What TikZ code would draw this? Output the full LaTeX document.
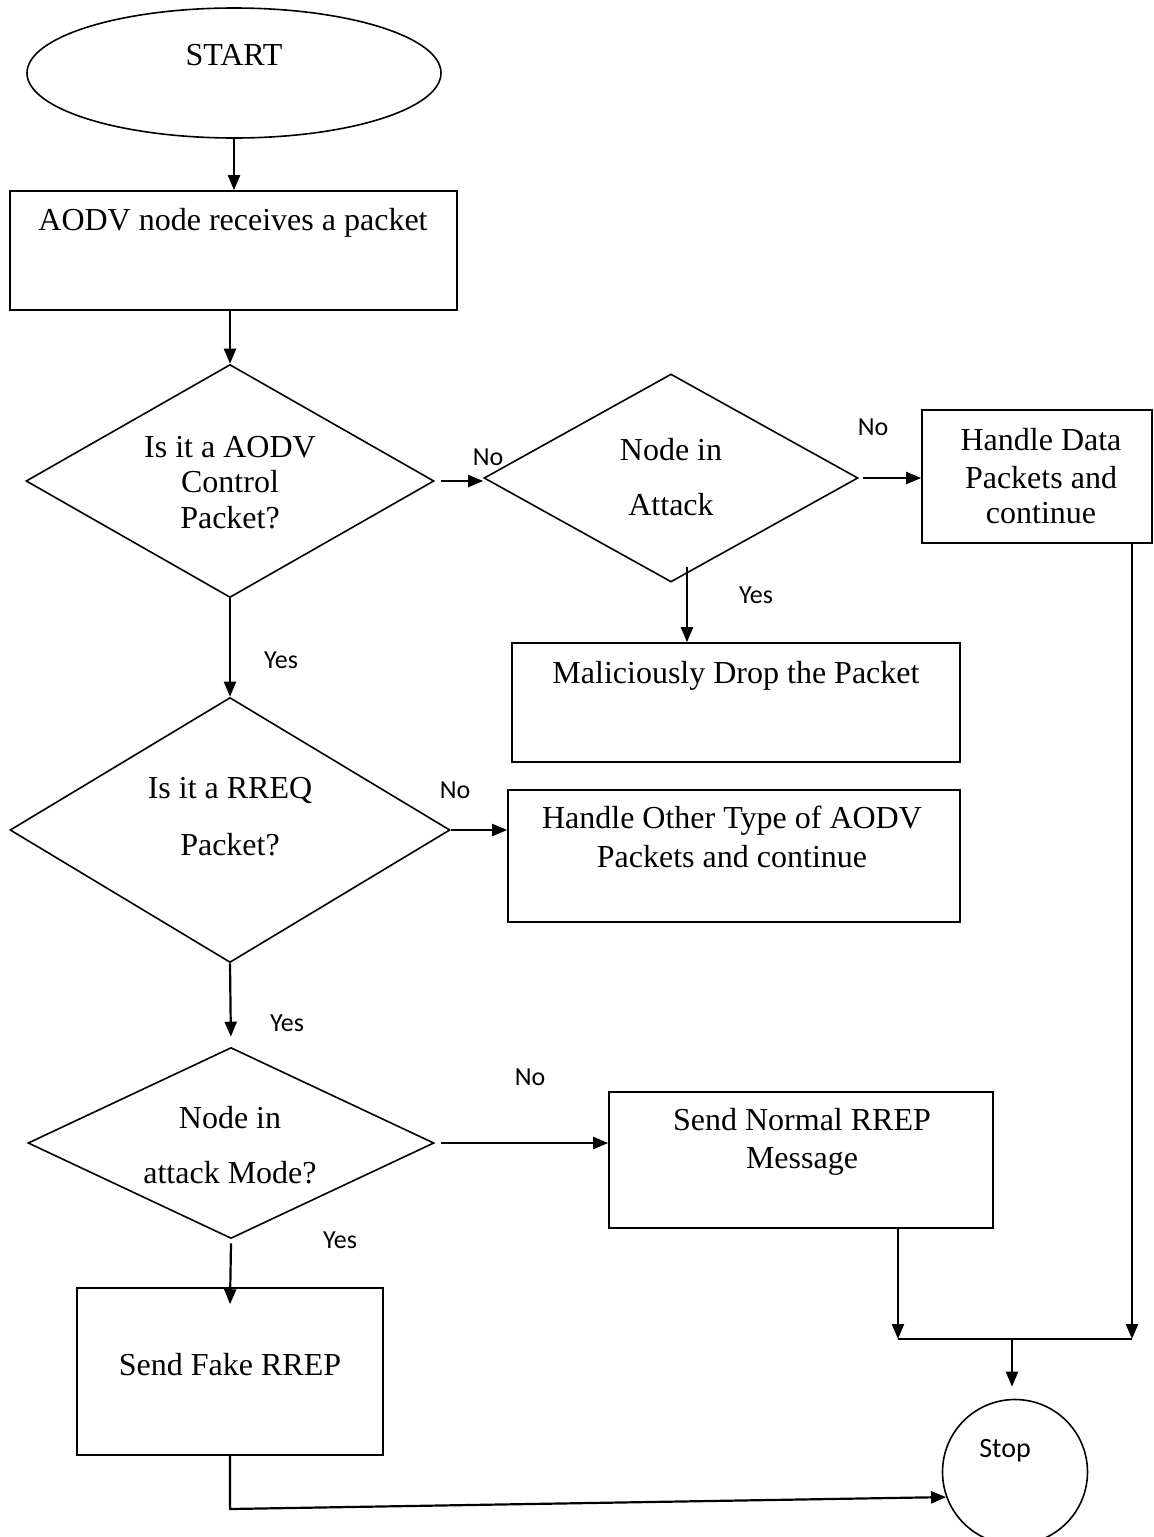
\documentclass[tikz,border=0pt]{standalone}
\usepackage{fontspec}
\setmainfont{Liberation Serif}
\newfontfamily\labelfont{Carlito}
\usetikzlibrary{shapes.geometric,arrows.meta}
\begin{document}
\begin{tikzpicture}[x=1pt,y=-1pt,
  shapeline/.style={draw=black,line width=1.6pt,inner sep=0pt},
  boxnode/.style={shapeline,rectangle},
  decision/.style={shapeline,diamond},
  txt/.style={anchor=base,inner sep=0pt,font=\fontsize{32}{38}\selectfont},
  lbl/.style={inner sep=0pt,font=\labelfont\fontsize{26}{30}\selectfont},
  arr/.style={line width=2.2pt,-{Triangle[length=15pt,width=12pt]}},
  plain/.style={line width=2.4pt}]
\useasboundingbox (0,0) rectangle (1154,1537);

% shapes
\node[shapeline,ellipse,minimum width=414pt,minimum height=130pt] (start) at (234,73) {};
\node[boxnode,minimum width=447pt,minimum height=119pt] (recv) at (233.5,250.5) {};
\node[decision,minimum width=408pt,minimum height=233pt] (d1) at (230,481) {};
\node[decision,minimum width=374pt,minimum height=208pt] (d2) at (671,478) {};
\node[boxnode,minimum width=230pt,minimum height=133pt] (data) at (1037,476.5) {};
\node[boxnode,minimum width=448pt,minimum height=119pt] (drop) at (736,702.5) {};
\node[decision,minimum width=440pt,minimum height=265pt] (d3) at (230,830) {};
\node[boxnode,minimum width=452pt,minimum height=132pt] (other) at (734,856) {};
\node[decision,minimum width=406pt,minimum height=191pt] (d4) at (231,1143) {};
\node[boxnode,minimum width=384pt,minimum height=136pt] (normal) at (801,1160) {};
\node[boxnode,minimum width=306pt,minimum height=167pt] (fake) at (230,1371.5) {};
\node[shapeline,circle,minimum size=145pt] (stop) at (1015,1472) {};

% texts
\node[txt] (tstart) at (234,65) {START};
\node[txt] (trecv) at (233,230) {AODV node receives a packet};
\node[txt] (td1a) at (230,457) {Is it a AODV};
\node[txt] (td1b) at (230,492) {Control};
\node[txt] (td1c) at (230,528) {Packet?};
\node[txt] (td2a) at (671,460) {Node in};
\node[txt] (td2b) at (671,515) {Attack};
\node[txt] (tdata1) at (1041,450) {Handle Data};
\node[txt] (tdata2) at (1041,488) {Packets and};
\node[txt] (tdata3) at (1041,523) {continue};
\node[txt] (tdrop) at (736,683) {Maliciously Drop the Packet};
\node[txt] (tother1) at (732,828) {Handle Other Type of AODV};
\node[txt] (tother2) at (732,867) {Packets and continue};
\node[txt] (td3a) at (230,798) {Is it a RREQ};
\node[txt] (td3b) at (230,855) {Packet?};
\node[txt] (td4a) at (230,1128) {Node in};
\node[txt] (td4b) at (230,1183) {attack Mode?};
\node[txt] (tnormal1) at (802,1130) {Send Normal RREP};
\node[txt] (tnormal2) at (802,1168) {Message};
\node[txt] (tfake) at (230,1375) {Send Fake RREP};
\node[lbl,anchor=base,font=\labelfont\fontsize{28}{32}\selectfont] (tstop) at (1005,1457) {Stop};

% branch labels
\node[lbl] (no1) at (488,457) {No};
\node[lbl] (no2) at (873,427) {No};
\node[lbl] (yes1) at (756,595) {Yes};
\node[lbl] (yes2) at (281,660) {Yes};
\node[lbl] (no3) at (455,790) {No};
\node[lbl] (yes3) at (287,1023) {Yes};
\node[lbl] (no4) at (530,1077) {No};
\node[lbl] (yes4) at (340,1240) {Yes};

% helper points
\coordinate (dyes) at (687,567);
\coordinate (ml) at (898,1339);
\coordinate (mr) at (1132,1339);
\coordinate (mm) at (1012,1339);
\coordinate (fk) at (230,1509);

% connectors
\draw[arr] (start.south) -- (start.south |- recv.north);
\draw[arr] (recv.south -| d1.north) -- (d1.north);
\draw[arr] ([xshift=6pt]d1.east) -- (d2.west |- d1.east);
\draw[arr] ([xshift=4pt]d2.east) -- (data.west |- d2.east);
\draw[arr] (dyes) -- (dyes |- drop.north);
\draw[arr] (d1.south) -- (d3.north);
\draw[arr] (d3.east) -- (other.west |- d3.east);
\draw[arr,shorten >=10pt] (d3.south) -- (d4.north);
\draw[arr] ([xshift=6pt]d4.east) -- (normal.west |- d4.east);
\draw[arr] ([yshift=-4pt]d4.south) -- ([yshift=-17pt]fake.north);
\draw[arr] (data.south -| mr) -- (mr);
\draw[arr] (normal.south -| ml) -- (ml);
\draw[plain] (ml) -- (mr);
\draw[arr,shorten >=12pt] (mm) -- (mm |- stop.north);
\draw[arr] (fake.south) -- (fk) -- (stop.200);
\end{tikzpicture}
\end{document}
